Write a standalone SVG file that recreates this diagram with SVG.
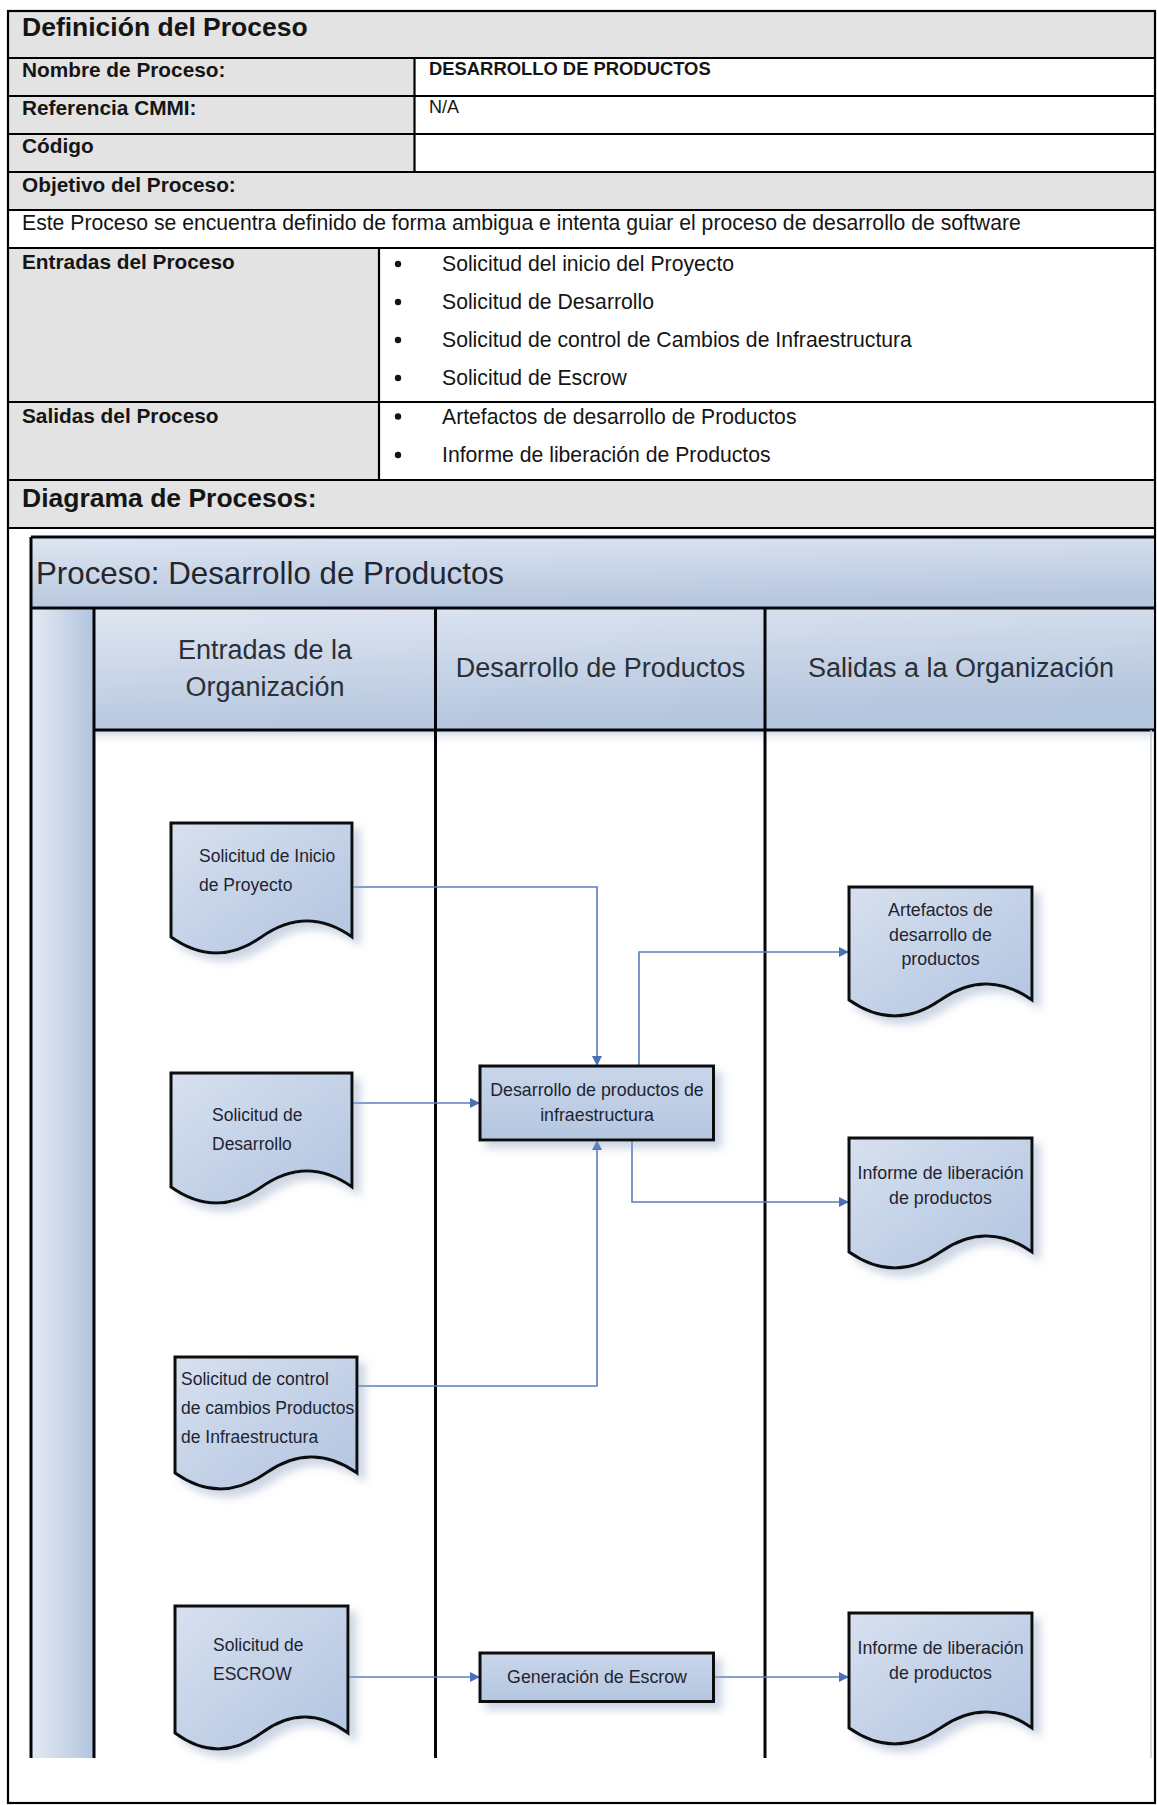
<svg xmlns="http://www.w3.org/2000/svg" width="1157" height="1805" viewBox="0 0 1157 1805">
  <style>
    .t { font-family: "Liberation Sans", Arial, sans-serif; fill: #151515; }
    .b { font-weight: bold; }
    .cellGray { fill: #e3e3e3; }
    .rule { stroke: #000; stroke-width: 2.2; fill: none; }
    .lane { stroke: #05060c; stroke-width: 3; fill: none; }
    .hd { font-family: "Liberation Sans", Arial, sans-serif; fill: #2b2f36; text-anchor: middle; }
    .doc { fill: url(#docGrad); stroke: #0a0a0a; stroke-width: 3; filter: url(#shadow); }
    .box { fill: url(#boxGrad); stroke: #0a0a0a; stroke-width: 3; filter: url(#shadow); }
    .lbl { font-family: "Liberation Sans", Arial, sans-serif; fill: #1e2430; font-size: 17.5px; }
    .lblc { font-family: "Liberation Sans", Arial, sans-serif; fill: #1e2430; font-size: 17.8px; text-anchor: middle; }
    .flow { stroke: #5b7ebd; stroke-width: 1.6; fill: none; marker-end: url(#arrow); }
  </style>
  <defs>
    <linearGradient id="bandGrad" x1="0" y1="0" x2="0.25" y2="1">
      <stop offset="0" stop-color="#dde5f1"/>
      <stop offset="1" stop-color="#b7c7df"/>
    </linearGradient>
    <linearGradient id="headGrad" x1="0" y1="0" x2="0.35" y2="1">
      <stop offset="0" stop-color="#dfe6f1"/>
      <stop offset="1" stop-color="#b4c5de"/>
    </linearGradient>
    <linearGradient id="colGrad" x1="0" y1="0" x2="1" y2="0">
      <stop offset="0" stop-color="#e4eaf4"/>
      <stop offset="1" stop-color="#b3c4de"/>
    </linearGradient>
    <linearGradient id="docGrad" x1="0" y1="0" x2="1" y2="1">
      <stop offset="0" stop-color="#d7e0ef"/>
      <stop offset="1" stop-color="#b1c4e0"/>
    </linearGradient>
    <linearGradient id="boxGrad" x1="0" y1="0" x2="0" y2="1">
      <stop offset="0" stop-color="#c9d6ea"/>
      <stop offset="1" stop-color="#b4c6e0"/>
    </linearGradient>
    <linearGradient id="fadeGrad" x1="0" y1="0" x2="0" y2="1">
      <stop offset="0" stop-color="#c9d3e2" stop-opacity="0.8"/>
      <stop offset="1" stop-color="#ffffff" stop-opacity="0"/>
    </linearGradient>
    <filter id="shadow" x="-20%" y="-20%" width="150%" height="150%">
      <feGaussianBlur in="SourceAlpha" stdDeviation="4"/>
      <feOffset dx="7" dy="7" result="blur"/>
      <feFlood flood-color="#8fa3c2" flood-opacity="0.45"/>
      <feComposite in2="blur" operator="in"/>
      <feMerge>
        <feMergeNode/>
        <feMergeNode in="SourceGraphic"/>
      </feMerge>
    </filter>
    <marker id="arrow" viewBox="0 0 10 10" refX="10" refY="5" markerWidth="10" markerHeight="10" markerUnits="userSpaceOnUse" orient="auto">
      <path d="M0,0 L10,5 L0,10 z" fill="#4a70b8"/>
    </marker>
    <clipPath id="cellClip">
      <rect x="9" y="529" width="1145" height="1273"/>
    </clipPath>
  </defs>

  <!-- process definition table -->
  <g id="table">
    <rect x="8" y="11" width="1147" height="1792" fill="#ffffff"/>
    <rect class="cellGray" x="8" y="11" width="1147" height="47"/>
    <rect class="cellGray" x="8" y="58" width="406.5" height="114"/>
    <rect class="cellGray" x="8" y="172" width="1147" height="38"/>
    <rect class="cellGray" x="8" y="248" width="371" height="232"/>
    <rect class="cellGray" x="8" y="480" width="1147" height="48"/>

    <path class="rule" d="M8,58 H1155 M8,96 H1155 M8,134 H1155 M8,172 H1155 M8,210 H1155 M8,248 H1155 M8,402 H1155 M8,480 H1155 M8,528 H1155 M414.5,58 V172 M379,248 V480"/>
    <rect class="rule" x="8" y="11" width="1147" height="1792"/>

    <text class="t b" x="22" y="36" font-size="26.5">Definición del Proceso</text>
    <text class="t b" x="22" y="77" font-size="20.8">Nombre de Proceso:</text>
    <text class="t b" x="429" y="75" font-size="18.4">DESARROLLO DE PRODUCTOS</text>
    <text class="t b" x="22" y="115" font-size="20.8">Referencia CMMI:</text>
    <text class="t" x="429" y="113" font-size="18">N/A</text>
    <text class="t b" x="22" y="153" font-size="20.8">Código</text>
    <text class="t b" x="22" y="191.5" font-size="20.8" fill="#2a2a2a">Objetivo del Proceso:</text>
    <text class="t" x="22" y="230" font-size="21.2">Este Proceso se encuentra definido de forma ambigua e intenta guiar el proceso de desarrollo de software</text>

    <text class="t b" x="22" y="268.5" font-size="20.8">Entradas del Proceso</text>
    <g class="t" font-size="21.2">
      <circle cx="398" cy="264" r="3.2" fill="#151515"/>
      <text x="442" y="271">Solicitud del inicio del Proyecto</text>
      <circle cx="398" cy="302" r="3.2" fill="#151515"/>
      <text x="442" y="309">Solicitud de Desarrollo</text>
      <circle cx="398" cy="340" r="3.2" fill="#151515"/>
      <text x="442" y="347">Solicitud de control de Cambios de Infraestructura</text>
      <circle cx="398" cy="378" r="3.2" fill="#151515"/>
      <text x="442" y="385">Solicitud de Escrow</text>
    </g>
    <text class="t b" x="22" y="423" font-size="20.8">Salidas del Proceso</text>
    <g class="t" font-size="21.2">
      <circle cx="398" cy="416.5" r="3.2" fill="#151515"/>
      <text x="442" y="423.5">Artefactos de desarrollo de Productos</text>
      <circle cx="398" cy="455" r="3.2" fill="#151515"/>
      <text x="442" y="462">Informe de liberación de Productos</text>
    </g>
    <text class="t b" x="22" y="507" font-size="26.5">Diagrama de Procesos:</text>
  </g>

  <!-- swimlane pool -->
  <g id="pool" clip-path="url(#cellClip)">
    <rect x="31" y="537" width="1130" height="71" fill="url(#bandGrad)"/>
    <rect x="94" y="608" width="1067" height="122" fill="url(#headGrad)"/>
    <rect x="31" y="608" width="63" height="1150" fill="url(#colGrad)"/>
    <rect x="96" y="731" width="1065" height="16" fill="url(#fadeGrad)"/>
    <path class="lane" d="M31,537 H1161 M31,608 H1161 M94,730 H1161 M31,537 V1758 M94,608 V1758 M435.5,608 V1758 M765,608 V1758"/>
    <path d="M1151,730 V1758" stroke="#c4ccd8" stroke-width="1.5" fill="none"/>
    <text x="36" y="584" font-family="Liberation Sans, Arial, sans-serif" font-size="31.3" fill="#23262c">Proceso: Desarrollo de Productos</text>
    <g id="lane-entradas">
      <text class="hd" x="265" y="659" font-size="27">Entradas de la</text>
      <text class="hd" x="265" y="696" font-size="27">Organización</text>
    </g>
    <g id="lane-desarrollo">
      <text class="hd" x="600.5" y="677" font-size="27">Desarrollo de Productos</text>
    </g>
    <g id="lane-salidas">
      <text class="hd" x="961" y="677" font-size="27">Salidas a la Organización</text>
    </g>
  </g>

  <!-- flow connectors -->
  <g id="connectors">
    <path class="flow" d="M352,887 H597 V1066"/>
    <path class="flow" d="M352,1103 H480"/>
    <path class="flow" d="M357,1386 H597 V1140"/>
    <path class="flow" d="M639,1066 V952 H849"/>
    <path class="flow" d="M632,1140 V1202 H849"/>
    <path class="flow" d="M348,1677 H480"/>
    <path class="flow" d="M713.5,1677 H849"/>
  </g>

  <!-- input documents -->
  <g id="doc-inicio">
    <path class="doc" d="M171,823 H352 V937 Q307,905 261.5,937 T171,937 Z"/>
    <text class="lbl" x="199" y="862">Solicitud de Inicio</text>
    <text class="lbl" x="199" y="891">de Proyecto</text>
  </g>
  <g id="doc-desarrollo">
    <path class="doc" d="M171,1073 H352 V1187 Q307,1155 261.5,1187 T171,1187 Z"/>
    <text class="lbl" x="212" y="1121">Solicitud de</text>
    <text class="lbl" x="212" y="1150">Desarrollo</text>
  </g>
  <g id="doc-control">
    <path class="doc" d="M175,1357 H357 V1473 Q311.5,1441 266,1473 T175,1473 Z"/>
    <text class="lbl" x="181" y="1385">Solicitud de control</text>
    <text class="lbl" x="181" y="1414">de cambios  Productos</text>
    <text class="lbl" x="181" y="1443">de Infraestructura</text>
  </g>
  <g id="doc-escrow">
    <path class="doc" d="M175,1606 H348 V1733 Q304.75,1701 261.5,1733 T175,1733 Z"/>
    <text class="lbl" x="213" y="1651">Solicitud de</text>
    <text class="lbl" x="213" y="1680">ESCROW</text>
  </g>

  <!-- process steps -->
  <g id="proc-infra">
    <rect class="box" x="480" y="1066" width="233.5" height="74"/>
    <text class="lblc" x="597" y="1096">Desarrollo de productos de</text>
    <text class="lblc" x="597" y="1121">infraestructura</text>
  </g>
  <g id="proc-escrow">
    <rect class="box" x="480" y="1653" width="233.5" height="48.5"/>
    <text class="lblc" x="597" y="1683">Generación de Escrow</text>
  </g>

  <!-- output documents -->
  <g id="doc-artefactos">
    <path class="doc" d="M849,887 H1032 V1000 Q986.25,968 940.5,1000 T849,1000 Z"/>
    <text class="lblc" x="940.5" y="916">Artefactos de</text>
    <text class="lblc" x="940.5" y="941">desarrollo de</text>
    <text class="lblc" x="940.5" y="965">productos</text>
  </g>
  <g id="doc-informe-1">
    <path class="doc" d="M849,1138 H1032 V1252 Q986.25,1220 940.5,1252 T849,1252 Z"/>
    <text class="lblc" x="940.5" y="1179">Informe de liberación</text>
    <text class="lblc" x="940.5" y="1204">de productos</text>
  </g>
  <g id="doc-informe-2">
    <path class="doc" d="M849,1613 H1032 V1728 Q986.25,1696 940.5,1728 T849,1728 Z"/>
    <text class="lblc" x="940.5" y="1654">Informe de liberación</text>
    <text class="lblc" x="940.5" y="1679">de productos</text>
  </g>
</svg>
